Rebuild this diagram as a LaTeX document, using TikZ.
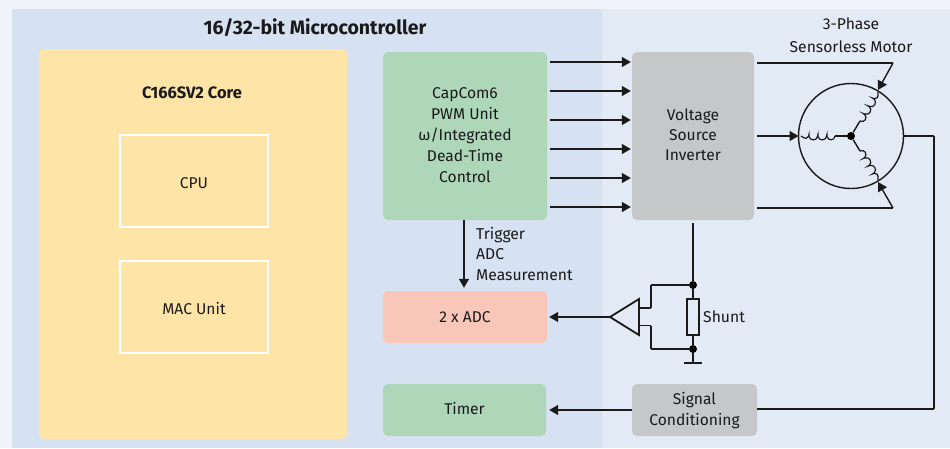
\documentclass[tikz,border=0pt]{standalone}
\usepackage{fontspec}
\setmainfont{Fira Sans}
\usetikzlibrary{arrows.meta,calc,shapes.geometric}
\definecolor{outerbg}{HTML}{F0F4FA}
\definecolor{leftbg}{HTML}{D6E1F2}
\definecolor{rightbg}{HTML}{E2EAF6}
\definecolor{corefill}{HTML}{FFE4A8}
\definecolor{greenfill}{HTML}{AED6B8}
\definecolor{grayfill}{HTML}{C6C7C9}
\definecolor{redfill}{HTML}{F9C6BA}
\definecolor{ink}{HTML}{1A1A1A}
\newcommand{\upshift}[1]{\raisebox{0pt}[\height][\dimexpr\depth+2pt\relax]{#1}}
\newcommand{\dnshift}[1]{\raisebox{0pt}[\dimexpr\height+2pt\relax][\depth]{#1}}
\tikzset{
  x=1pt,y=-1pt,
  blk/.style={rounded corners=5pt,draw=none,align=center,inner sep=0pt,text=ink,font=\fontsize{15.6}{21}\selectfont},
  inbox/.style={draw=white,line width=1.6pt,fill=none,inner sep=0pt,text=ink,text height=18.5pt,text depth=3pt,font=\fontsize{15.6}{21}\selectfont},
  wire/.style={line width=1.4pt,draw=ink,line cap=square},
  arr/.style={line width=1.4pt,draw=ink,-{Triangle[length=9pt,width=10pt]}},
  dotnode/.style={circle,fill=black,draw=none,minimum size=8pt,inner sep=0pt},
  lbl/.style={align=left,text=ink,inner sep=0pt,font=\fontsize{15.7}{20.5}\selectfont},
  coilseg/.pic={
    \draw[line width=1.2pt,draw=ink] (0,0)
      .. controls (0.5,5) and (7,5) .. (8,0.5)
      .. controls (8.6,-2) and (7.4,-2) .. (8.5,0.5)
      .. controls (9.5,5) and (16,5) .. (17,0.5)
      .. controls (17.6,-2) and (16.4,-2) .. (17.5,0.5)
      .. controls (18.5,5) and (25,5) .. (26,0.5)
      .. controls (26.6,-2) and (25.4,-2) .. (26.5,0.5)
      .. controls (27.5,3) and (30,3) .. (34,0);
  }
}
\begin{document}
\begin{tikzpicture}
\useasboundingbox (0,0) rectangle (950,448);
\fill[outerbg] (0,0) rectangle (950,448);
\fill[rightbg] (602,9) rectangle (950,448);
\fill[leftbg] (12,9) rectangle (602,448);
\node[text=ink,font=\fontsize{19.5}{22}\selectfont\bfseries,inner sep=0pt] (title) at (315,28) {16/32-bit Microcontroller};

\node[blk,fill=corefill,minimum width=308pt,minimum height=390pt] (core) at (193,244) {};
\node[text=ink,font=\fontsize{16.5}{18}\selectfont\bfseries,inner sep=0pt] (corelabel) at (192,92.5) {C166SV2 Core};
\node[inbox,minimum width=148pt,minimum height=92pt] (cpu) at (194,181) {CPU};
\node[inbox,minimum width=148pt,minimum height=92pt] (mac) at (194,307) {MAC Unit};

\node[blk,fill=greenfill,minimum width=164pt,minimum height=168pt] (pwm) at (465,136) {CapCom6\\PWM Unit\\ω/Integrated\\Dead-Time\\\upshift{Control}};
\node[blk,fill=grayfill,minimum width=122pt,minimum height=168pt,font=\fontsize{15.6}{20}\selectfont] (vsi) at (693,136) {Voltage\\Source\\\upshift{Inverter}};
\node[blk,fill=redfill,minimum width=164pt,minimum height=52pt] (adc) at (465,317) {2 x ADC};
\node[blk,fill=greenfill,minimum width=163pt,minimum height=52pt] (timer) at (464.5,410) {\upshift{Timer}};
\node[blk,fill=grayfill,minimum width=125pt,minimum height=52pt] (sig) at (694.5,410) {\dnshift{Signal}\\Conditioning};

% PWM to inverter
\foreach \yy in {62,91,120,149,178,207}
  \draw[arr,shorten <=3pt,shorten >=1pt] (pwm.east |- 0,\yy) -- (vsi.west |- 0,\yy);

% Trigger
\draw[arr,shorten >=3pt] (pwm.south -| 464,0) -- (adc.north -| 464,0);
\node[lbl,anchor=north west,align=left] (trig) at (476,227) {Trigger\\ADC\\Measurement};

% Motor
\node[circle,draw=ink,line width=1.4pt,minimum size=105pt,inner sep=0pt] (motor) at (851,136) {};
\node[dotnode] (star) at (851,136) {};
\node[text=ink,align=center,inner sep=0pt,font=\fontsize{15.7}{23}\selectfont] (mlabel) at (851,35) {3-Phase\\Sensorless Motor};
\coordinate (ttip) at (878,90);
\coordinate (btip) at (878,182);
\coordinate (ltip) at (798.5,136);
\coordinate (tcorner) at (893,63);
\coordinate (bcorner) at (893,208);
\coordinate (rcorner) at (934,136);
\coordinate (bottomcorner) at (934,409);

% windings
\draw[wire] (star) -- (835,136);
\pic[xscale=-1] at (835,136) {coilseg};
\draw[wire] (star) -- (860,121);
\pic[rotate=58] at (860,121) {coilseg};
\draw[wire] (star) -- (860,151);
\pic[rotate=-58,yscale=-1] at (860,151) {coilseg};

\draw[arr,shorten <=3pt] (vsi.east |- ltip) -- (ltip);
\draw[wire,shorten <=3pt] (vsi.east |- tcorner) -- (tcorner);
\draw[arr] (tcorner) -- (ttip);
\draw[wire,shorten <=3pt] (vsi.east |- bcorner) -- (bcorner);
\draw[arr] (bcorner) -- (btip);
\draw[wire] (motor.east) -- (rcorner);
\draw[wire] (rcorner) -- (bottomcorner);
\draw[wire] (bottomcorner) -- (sig.east |- bottomcorner);
\draw[arr,shorten >=3pt] (sig.west) -- (timer.east);

% Shunt
\node[dotnode] (d1) at (693,285) {};
\node[dotnode] (d2) at (693,349) {};
\node[rectangle,draw=ink,line width=1.6pt,minimum width=12pt,minimum height=36pt,inner sep=0pt] (shunt) at (693,317) {};
\node[lbl,anchor=west] (shuntlbl) at (703,317) {Shunt};
\coordinate (gnd) at (693,363);
\draw[wire,shorten <=3pt] (vsi.south -| d1) -- (d1);
\draw[wire] (d1) -- (shunt.north);
\draw[wire] (shunt.south) -- (d2);
\draw[wire] (d2) -- (gnd);
\draw[wire] ($(gnd)+(-9,0)$) -- ($(gnd)+(9,0)$);

% Amplifier
\coordinate (ampa) at (610,317);
\coordinate (ampb) at (639,299);
\coordinate (ampc) at (639,335);
\coordinate (tapa) at (639,308);
\coordinate (tapb) at (639,325.5);
\coordinate (benda) at (651,308);
\coordinate (bendb) at (651,325.5);
\coordinate (bendc) at (651,285);
\coordinate (bendd) at (651,349);
\draw[draw=ink,line width=1.8pt,line join=miter] (ampa) -- (ampb) -- (ampc) -- cycle;
\draw[wire] (tapa) -- (benda);
\draw[wire] (benda) -- (bendc);
\draw[wire] (bendc) -- (d1);
\draw[wire] (tapb) -- (bendb);
\draw[wire] (bendb) -- (bendd);
\draw[wire] (bendd) -- (d2);
\draw[arr,shorten >=2pt] (ampa) -- (adc.east);
\end{tikzpicture}
\end{document}
